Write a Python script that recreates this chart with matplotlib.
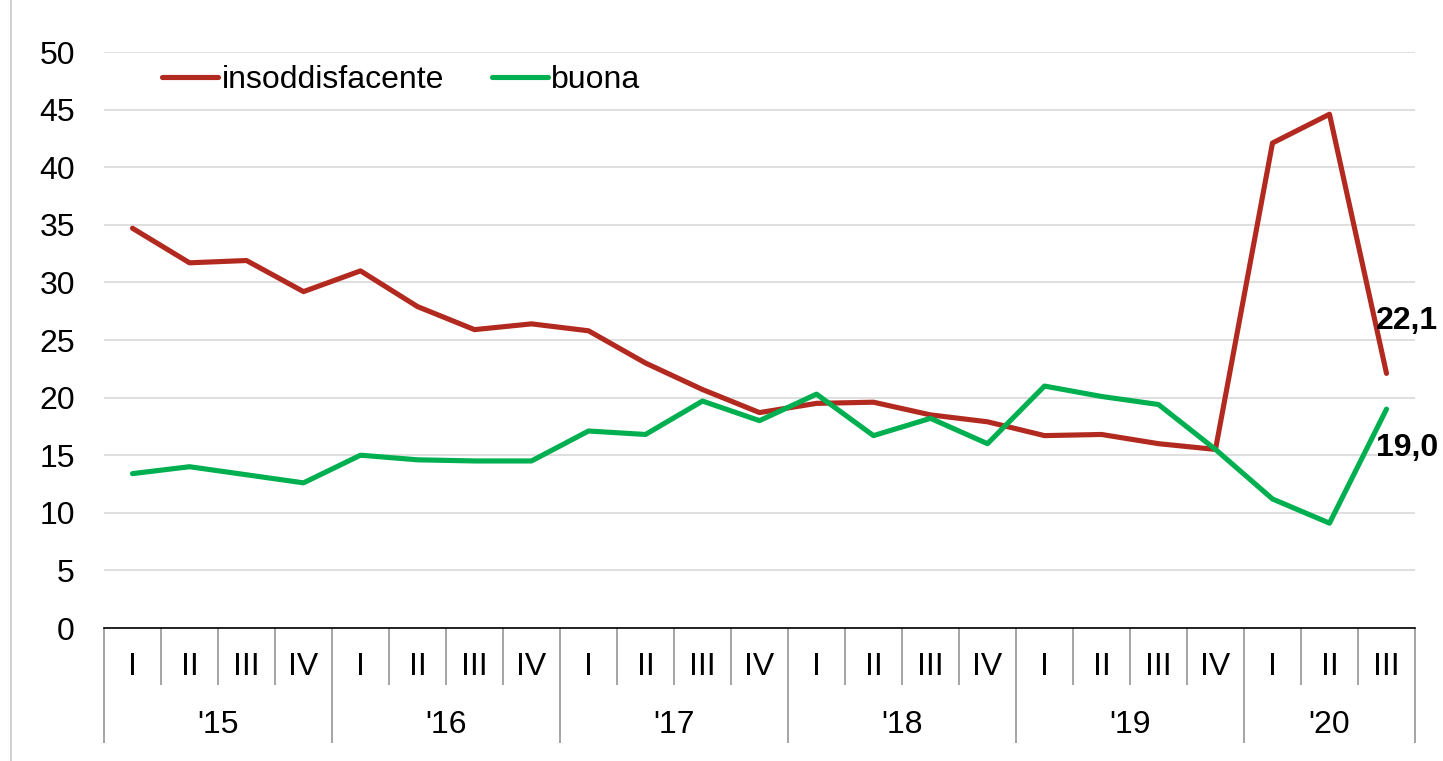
import matplotlib.pyplot as plt
from matplotlib.ticker import MultipleLocator, FixedLocator
from matplotlib.transforms import blended_transform_factory
from matplotlib.lines import Line2D

# DATA
years = ["'15", "'16", "'17", "'18", "'19", "'20"]
quarters_per_year = [4, 4, 4, 4, 4, 3]
quarter_names = ["I", "II", "III", "IV"]

insoddisfacente = [34.7, 31.7, 31.9, 29.2,
                   31.0, 27.9, 25.9, 26.4,
                   25.8, 23.0, 20.7, 18.7,
                   19.5, 19.6, 18.5, 17.9,
                   16.7, 16.8, 16.0, 15.5,
                   42.1, 44.6, 22.1]
buona = [13.4, 14.0, 13.3, 12.6,
         15.0, 14.6, 14.5, 14.5,
         17.1, 16.8, 19.7, 18.0,
         20.3, 16.7, 18.2, 16.0,
         21.0, 20.1, 19.4, 15.5,
         11.2, 9.1, 19.0]

RED = "#B22A1F"
GREEN = "#00B050"

plt.rcParams['font.family'] = ['Liberation Sans', 'DejaVu Sans']

fig = plt.figure(figsize=(14.43, 7.61), dpi=100)
ax = fig.add_axes([104 / 1443, 1 - 628 / 761, (1415 - 104) / 1443, (628 - 52) / 761])

x = list(range(len(insoddisfacente)))
ax.plot(x, insoddisfacente, color=RED, lw=3.7, label="insoddisfacente", solid_capstyle="round")
ax.plot(x, buona, color=GREEN, lw=3.7, label="buona", solid_capstyle="round")

ax.set_xlim(-0.5, len(x) - 0.5)
ax.set_ylim(0, 50)
ax.yaxis.set_major_locator(MultipleLocator(5))
ax.grid(axis="y", color="#d9d9d9", lw=1.2)
ax.set_axisbelow(True)
for s in ["left", "right", "top"]:
    ax.spines[s].set_visible(False)
ax.spines["bottom"].set_color("black")
ax.spines["bottom"].set_linewidth(1.2)
ax.tick_params(axis="y", length=0, labelsize=23, pad=21)

# category axis: quarter boundaries (minor) and year boundaries (major)
bounds = [-0.5]
for n in quarters_per_year:
    bounds.append(bounds[-1] + n)
ax.xaxis.set_major_locator(FixedLocator(bounds))
ax.xaxis.set_minor_locator(FixedLocator([b - 0.5 for b in range(len(x) + 1)]))
ax.tick_params(axis="x", which="major", length=83, width=1.1, color="#8c8c8c", labelbottom=False)
ax.tick_params(axis="x", which="minor", length=41, width=1.1, color="#8c8c8c")

trans = blended_transform_factory(ax.transData, ax.transAxes)
i = 0
for y, n in zip(years, quarters_per_year):
    for q in range(n):
        ax.text(i + q, -39 / 576, quarter_names[q], transform=trans,
                ha="center", va="center", fontsize=23)
    ax.text(i + (n - 1) / 2, -97 / 576, y, transform=trans,
            ha="center", va="center", fontsize=23)
    i += n

# end labels
ax.annotate("22,1", (x[-1], insoddisfacente[-1]), xytext=(15, 38), textcoords="offset points",
            ha="center", va="center", fontsize=23, fontweight="bold")
ax.annotate("19,0", (x[-1], buona[-1]), xytext=(15, -28), textcoords="offset points",
            ha="center", va="center", fontsize=23, fontweight="bold")

ax.legend(loc="upper left", bbox_to_anchor=(0.03, 1.01), ncol=2, frameon=False, fontsize=23,
          handlelength=1.75, handletextpad=0.1, columnspacing=1.5, borderaxespad=0.2)

# thin left frame line
fig.add_artist(Line2D([11 / 1443, 11 / 1443], [0, 1], color="#c8c8c8", lw=1.2))

fig.savefig("out.png", dpi=100)
